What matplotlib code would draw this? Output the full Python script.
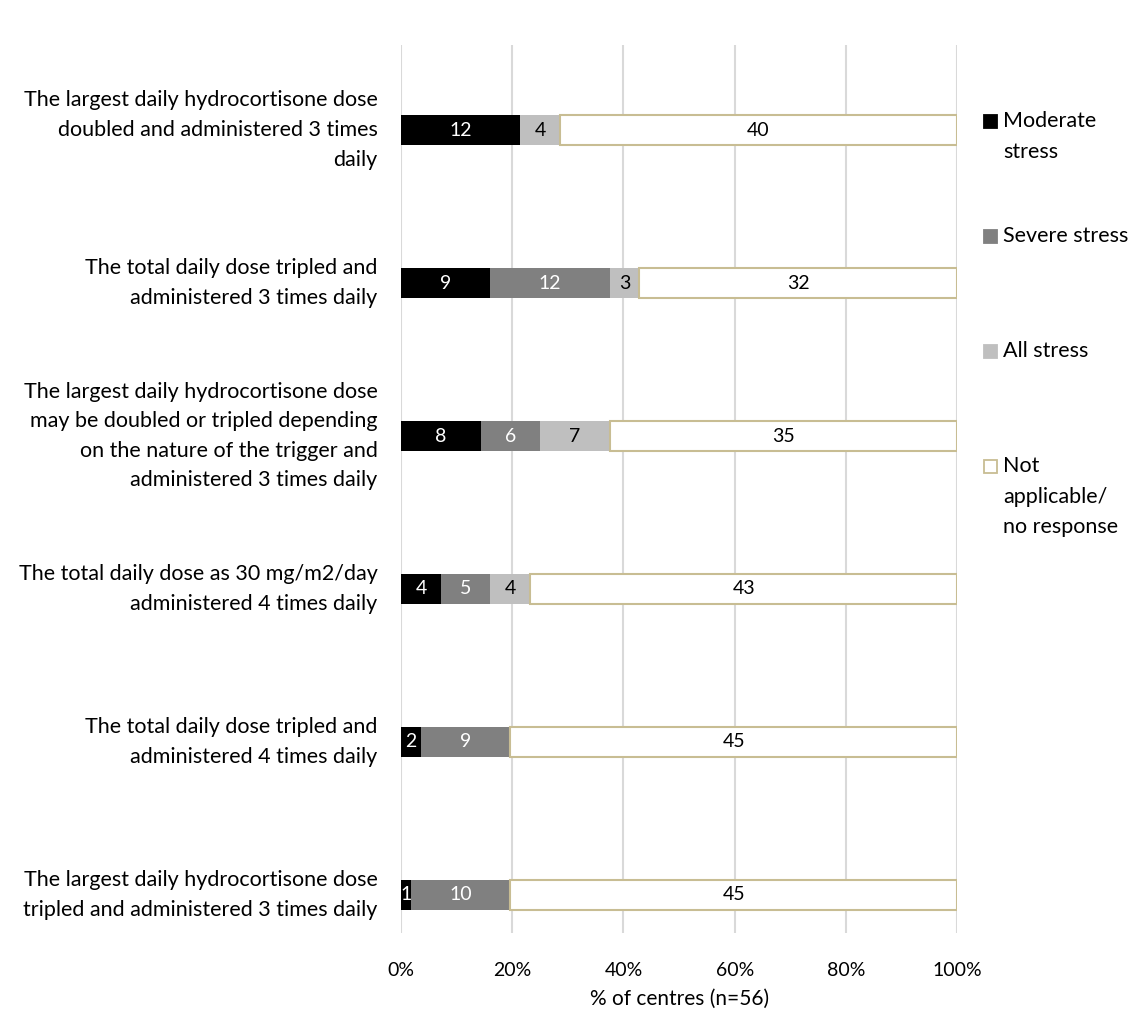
import matplotlib
matplotlib.use("Agg")
import matplotlib.pyplot as plt
from matplotlib.patches import Rectangle
import numpy as np

plt.rcParams['font.family'] = ['Lato', 'DejaVu Sans']

categories = [
    "The largest daily hydrocortisone dose\ndoubled and administered 3 times\ndaily",
    "The total daily dose tripled and\nadministered 3 times daily",
    "The largest daily hydrocortisone dose\nmay be doubled or tripled depending\non the nature of the trigger and\nadministered 3 times daily",
    "The total daily dose as 30 mg/m2/day\nadministered 4 times daily",
    "The total daily dose tripled and\nadministered 4 times daily",
    "The largest daily hydrocortisone dose\ntripled and administered 3 times daily",
]
series_names = ["Moderate\nstress", "Severe stress", "All stress", "Not\napplicable/\nno response"]
moderate = [12, 9, 8, 4, 2, 1]
severe = [0, 12, 6, 5, 9, 10]
all_stress = [4, 3, 7, 4, 0, 0]
not_applicable = [40, 32, 35, 43, 45, 45]
n_centres = 56
x_ticks = [0, 20, 40, 60, 80, 100]

series = [moderate, severe, all_stress, not_applicable]
face = ["#000000", "#808080", "#BFBFBF", "#FFFFFF"]
edge = ["#000000", "#808080", "#BFBFBF", "#C8BD93"]
text_col = ["white", "white", "black", "black"]

fig = plt.figure(figsize=(11.33, 10.14), dpi=100)
ax = fig.add_axes([0.354, 0.080, 0.4907, 0.8756])

y = np.arange(len(categories))
left = np.zeros(len(categories))
for vals, fc, ec, tc in zip(series, face, edge, text_col):
    vals = np.array(vals, dtype=float)
    pct = vals / n_centres * 100
    bars = ax.barh(y, pct, left=left, height=0.2, color=fc, edgecolor=ec,
                   linewidth=1.5 if fc == "#FFFFFF" else 0, zorder=3)
    for b, v, p, l in zip(bars, vals, pct, left):
        if v > 0:
            ax.text(l + p / 2, b.get_y() + b.get_height() / 2, f"{int(v)}",
                    ha="center", va="center", color=tc, fontsize=14, zorder=4)
    left += pct

ax.set_xlim(0, 100)
ax.set_ylim(5.248, -0.556)
ax.set_xticks(x_ticks)
ax.set_xticklabels([f"{t}%" for t in x_ticks], fontsize=14, color="#000000")
ax.tick_params(axis="x", length=0, pad=21)
ax.set_yticks([])
ax.grid(axis="x", color="#D9D9D9", linewidth=1.5, zorder=0)
for s in ax.spines.values():
    s.set_visible(False)
ax.set_xlabel(f"% of centres (n={n_centres})", fontsize=15, labelpad=7)

for yi, cat in zip(y, categories):
    ax.text(-0.042, yi, cat, transform=ax.get_yaxis_transform(),
            ha="right", va="center", fontsize=15.5, linespacing=1.6)

# Legend drawn at the right of the plot area
W, H = 1133, 1014
leg_y = [121, 236, 351, 466]
for name, fc, ec, ly in zip(series_names, face, edge, leg_y):
    sq = 13
    fig.add_artist(Rectangle(((991 - sq / 2) / W, 1 - (ly + sq / 2) / H), sq / W, sq / H,
                             facecolor=fc, edgecolor=ec, linewidth=1.3,
                             transform=fig.transFigure))
    fig.text(1003 / W, 1 - (ly - 10) / H, name, ha="left", va="top", fontsize=15.5,
             linespacing=1.66)

fig.savefig("out.png", dpi=100)
